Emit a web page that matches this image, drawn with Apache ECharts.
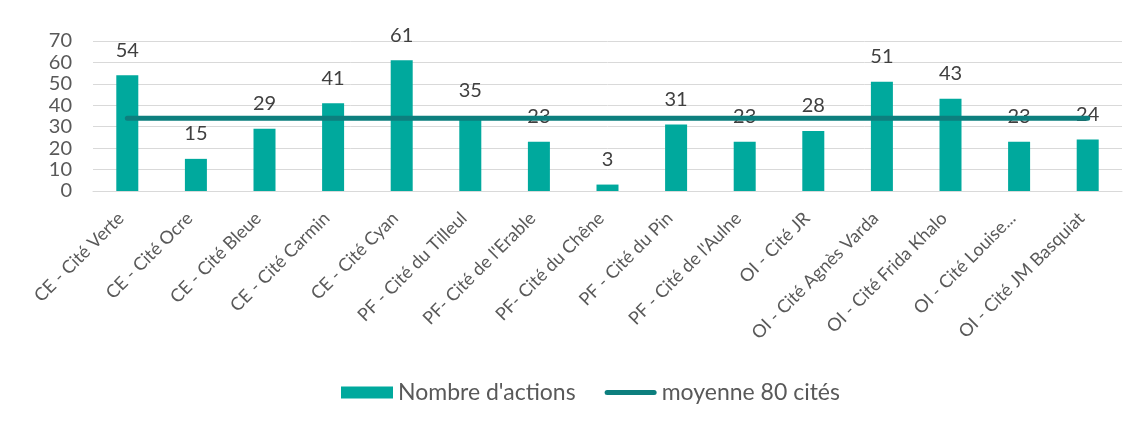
<!DOCTYPE html>
<html>
<head>
<meta charset="utf-8">
<script src="https://cdn.jsdelivr.net/npm/echarts@6/dist/echarts.min.js"></script>
<style>
  html, body { margin: 0; padding: 0; background: #fff; }
  #chart { width: 1143px; height: 426px; }
</style>
</head>
<body>
<div id="chart"></div>
<script>
const categories = [
  'CE - Cité Verte', 'CE - Cité Ocre', 'CE - Cité Bleue', 'CE - Cité Carmin', 'CE - Cité Cyan',
  'PF - Cité du Tilleul', "PF- Cité de l'Erable", 'PF- Cité du Chêne', 'PF - Cité du Pin',
  "PF - Cité de l'Aulne", 'OI - Cité JR', 'OI - Cité Agnès Varda', 'OI - Cité Frida Khalo',
  'OI - Cité Louise...', 'OI - Cité JM Basquiat'
]
const actions = [54, 15, 29, 41, 61, 35, 23, 3, 31, 23, 28, 51, 43, 23, 24]
const average = [34, 34, 34, 34, 34, 34, 34, 34, 34, 34, 34, 34, 34, 34, 34]

const font = 'Lato, "Open Sans", sans-serif'
const textColor = '#595959'

const chart = echarts.init(document.getElementById('chart'))
chart.setOption({
  animation: false,
  textStyle: { fontFamily: font },
  grid: { left: 93, right: 21, top: 41, bottom: 235, containLabel: false },
  legend: {
    bottom: 17,
    left: 336,
    itemGap: 29,
    itemWidth: 52,
    itemHeight: 12,
    textStyle: { color: textColor, fontSize: 23, fontFamily: font },
    data: [
      { name: "Nombre d'actions", icon: 'rect' },
      { name: 'moyenne 80 cités', icon: 'path://M2.5,0 H49.5 A2.5,2.5 0 0 1 49.5,5 H2.5 A2.5,2.5 0 0 1 2.5,0 Z' }
    ]
  },
  xAxis: {
    type: 'category',
    data: categories,
    axisTick: { show: false },
    axisLine: { lineStyle: { color: '#d9d9d9', width: 1 } },
    axisLabel: {
      rotate: 45, interval: 0, color: textColor, fontSize: 18, margin: 18,
      padding: [0, 9, 0, 0], fontFamily: font
    }
  },
  yAxis: {
    type: 'value',
    min: 0,
    max: 70,
    interval: 10,
    axisLine: { show: false },
    axisTick: { show: false },
    axisLabel: { color: textColor, fontSize: 20, margin: 21, fontFamily: font },
    splitLine: { lineStyle: { color: '#d9d9d9', width: 1 } }
  },
  series: [
    {
      name: "Nombre d'actions",
      type: 'bar',
      data: actions,
      barWidth: 22,
      itemStyle: { color: '#00a99d' },
      label: { show: true, position: 'top', distance: 15, color: '#404040', fontSize: 20, fontFamily: font },
      z: 2
    },
    {
      name: 'moyenne 80 cités',
      type: 'line',
      data: average,
      symbol: 'none',
      lineStyle: { color: '#0d7f7e', width: 5, cap: 'round' },
      itemStyle: { color: '#0d7f7e' },
      z: 3
    }
  ]
})
</script>
</body>
</html>
